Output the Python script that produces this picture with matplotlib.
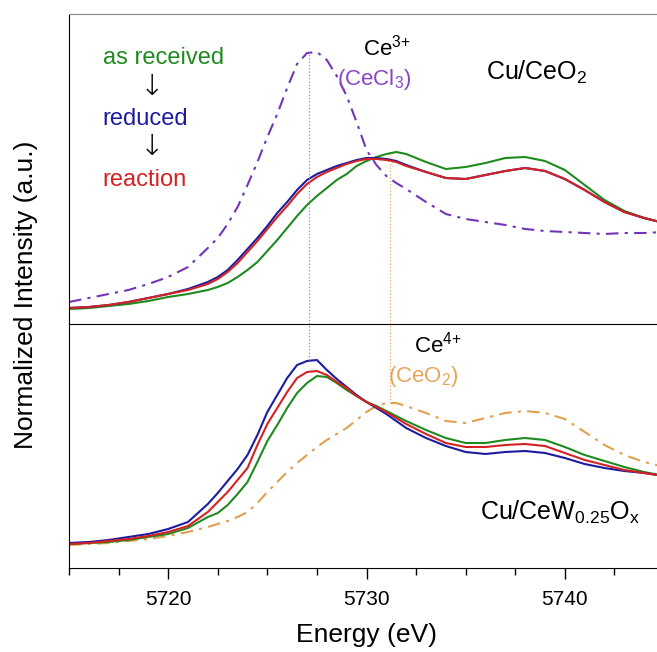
import matplotlib
matplotlib.use("Agg")
import matplotlib.pyplot as plt
from matplotlib.ticker import MultipleLocator

plt.rcParams['font.family'] = ['Liberation Sans', 'DejaVu Sans']
plt.rcParams['mathtext.fontset'] = 'custom'
plt.rcParams['mathtext.rm'] = 'Liberation Sans'
plt.rcParams['mathtext.it'] = 'Liberation Sans:italic'

# energy grid (eV)
energy = [5715, 5716, 5717, 5718, 5719, 5720, 5721, 5722, 5722.5, 5723, 5723.5,
          5724, 5724.5, 5725, 5725.5, 5726, 5726.5, 5727, 5727.5, 5728, 5728.5,
          5729, 5729.5, 5730, 5730.5, 5731, 5731.5, 5732, 5733, 5734, 5735,
          5736, 5737, 5738, 5739, 5740, 5741, 5742, 5743, 5744, 5745]

# Cu/CeO2 panel (a.u.)
ceo2_received = [15, 16, 18, 20, 23, 27, 30, 34, 37, 41, 47, 54, 62, 73, 84, 96, 108,
                 119, 128, 136, 144, 150, 158, 163, 167, 170, 172, 170, 162, 155, 157,
                 161, 166, 167, 163, 154, 139, 124, 113, 106, 101]
ceo2_reduced = [16, 17, 19, 22, 26, 30, 35, 42, 47, 54, 64, 75, 86, 98, 111, 122, 134,
                144, 150, 154, 158, 161, 164, 166, 166, 165, 163, 159, 152, 146, 145,
                149, 153, 156, 153, 145, 134, 122, 112, 106, 101]
ceo2_reaction = [16, 17, 19, 22, 26, 30, 34, 40, 45, 52, 61, 72, 83, 95, 107, 118, 130,
                 140, 147, 152, 156, 160, 163, 165, 165, 164, 162, 158, 152, 146, 145,
                 149, 153, 156, 153, 145, 134, 122, 112, 106, 101]
cecl3_ref = [22, 26, 30, 34, 40, 47, 57, 76, 86, 100, 117, 139, 162, 187, 210, 236, 260,
             271, 272, 264, 248, 228, 202, 174, 159, 148, 141, 135, 122, 110, 105, 102,
             99, 95, 93, 92, 91, 90, 91, 91, 92]

# Cu/CeW0.25Ox panel (a.u.)
cew_received = [24, 25, 26, 28, 31, 34, 40, 51, 55, 63, 74, 86, 106, 127, 143, 160, 175,
                185, 192, 191, 185, 178, 172, 166, 162, 157, 152, 147, 138, 130, 125,
                125, 128, 130, 128, 121, 113, 107, 101, 96, 92]
cew_reduced = [25, 26, 28, 31, 34, 39, 46, 64, 75, 87, 99, 113, 133, 156, 173, 190, 203,
               207, 208, 198, 189, 181, 173, 166, 160, 154, 147, 140, 130, 122, 116,
               114, 116, 117, 115, 110, 104, 100, 97, 95, 92]
cew_reaction = [24, 25, 27, 29, 32, 36, 42, 56, 66, 76, 88, 100, 123, 144, 160, 176, 190,
                196, 197, 193, 186, 180, 172, 166, 161, 156, 150, 144, 134, 125, 121,
                121, 123, 124, 122, 115, 108, 103, 98, 95, 92]
ceo2_ref = [23, 24, 25, 27, 29, 32, 36, 41, 44, 47, 51, 56, 65, 76, 86, 96, 105, 113,
            121, 128, 134, 140, 148, 156, 162, 165, 165, 162, 155, 147, 145, 150, 155,
            157, 155, 149, 136, 123, 113, 106, 101]

ce3_peak = 5727.1
ce4_peak = 5731.2

green = '#1f8a1f'
blue = '#1c1ca0'
red = '#d42222'
purple = '#7434b8'
orange = '#e0a050'
dashdot = (0, (6, 3, 1.5, 3))

fig = plt.figure(figsize=(6.57, 6.52), dpi=100)
ax1 = fig.add_axes([69 / 657, 1 - 324 / 652, 595 / 657, 310 / 652])
ax2 = fig.add_axes([69 / 657, 1 - 568 / 652, 595 / 657, 244 / 652], sharex=ax1)
ax2.patch.set_alpha(0)

# top panel
ax1.plot(energy, cecl3_ref, color=purple, lw=1.5, ls=dashdot)
ax1.plot(energy, ceo2_received, color=green, lw=1.5)
ax1.plot(energy, ceo2_reduced, color=blue, lw=1.5)
ax1.plot(energy, ceo2_reaction, color=red, lw=1.5)
ax1.vlines(ce3_peak, 0, max(cecl3_ref), color='#9a80d8', lw=0.9, ls=':')
ax1.vlines(ce4_peak, 0, max(ceo2_received), color='#d8a860', lw=0.9, ls=':')

# bottom panel
ax2.plot(energy, ceo2_ref, color=orange, lw=1.5, ls=dashdot)
ax2.plot(energy, cew_received, color=green, lw=1.5)
ax2.plot(energy, cew_reduced, color=blue, lw=1.5)
ax2.plot(energy, cew_reaction, color=red, lw=1.5)
ax2.vlines(ce3_peak, max(cew_reduced), 244, color='#9a80d8', lw=0.9, ls=':')
ax2.vlines(ce4_peak, max(ceo2_ref), 244, color='#d8a860', lw=0.9, ls=':')

ax1.set_xlim(5715, 5745)
ax1.set_ylim(0, 310)
ax2.set_ylim(0, 244)

for ax in (ax1, ax2):
    ax.spines['right'].set_visible(False)
    ax.set_yticks([])
ax1.spines['top'].set_color('#888888')
ax1.spines['bottom'].set_visible(False)
ax1.tick_params(axis='x', which='both', bottom=False, labelbottom=False)
ax2.spines['top'].set_color('black')

ax2.xaxis.set_major_locator(MultipleLocator(10))
ax2.xaxis.set_minor_locator(MultipleLocator(2.5))
ax2.tick_params(axis='x', which='major', length=8, width=1, labelsize=15, pad=8)
ax2.tick_params(axis='x', which='minor', length=5, width=1)
ax2.set_xlabel('Energy (eV)', fontsize=19, labelpad=10)
fig.text(0.040, 1 - 295 / 652, 'Normalized Intensity (a.u.)', rotation=90,
         fontsize=19, ha='center', va='center')

# annotations top
ax1.text(5716.7, 260, 'as received', color=green, fontsize=17, va='baseline')
ax1.text(5719.2, 237, '\u2193', fontsize=21, ha='center', va='center',
         family='DejaVu Sans', fontweight='light')
ax1.text(5716.7, 199, 'reduced', color=blue, fontsize=17, va='baseline')
ax1.text(5719.2, 177, '\u2193', fontsize=21, ha='center', va='center',
         family='DejaVu Sans', fontweight='light')
ax1.text(5716.7, 138, 'reaction', color=red, fontsize=17, va='baseline')
ax1.text(5729.8, 269, r'Ce$^{3{+}}$', fontsize=16, va='baseline')
ax1.text(5728.5, 239, r'(CeCl$_3$)', color='#8a44c8', fontsize=16, va='baseline')
ax1.text(5736.0, 244, r'Cu/CeO$_2$', fontsize=18, va='baseline')

# annotations bottom
ax2.text(5732.4, 216, r'Ce$^{4{+}}$', fontsize=16, va='baseline')
ax2.text(5731.1, 186, r'(CeO$_2$)', color='#e6a65a', fontsize=16, va='baseline')
ax2.text(5735.7, 48, r'Cu/CeW$_{\mathrm{0.25}}$O$_{\mathrm{x}}$', fontsize=18,
         va='baseline')

fig.savefig('out.png', dpi=100)
